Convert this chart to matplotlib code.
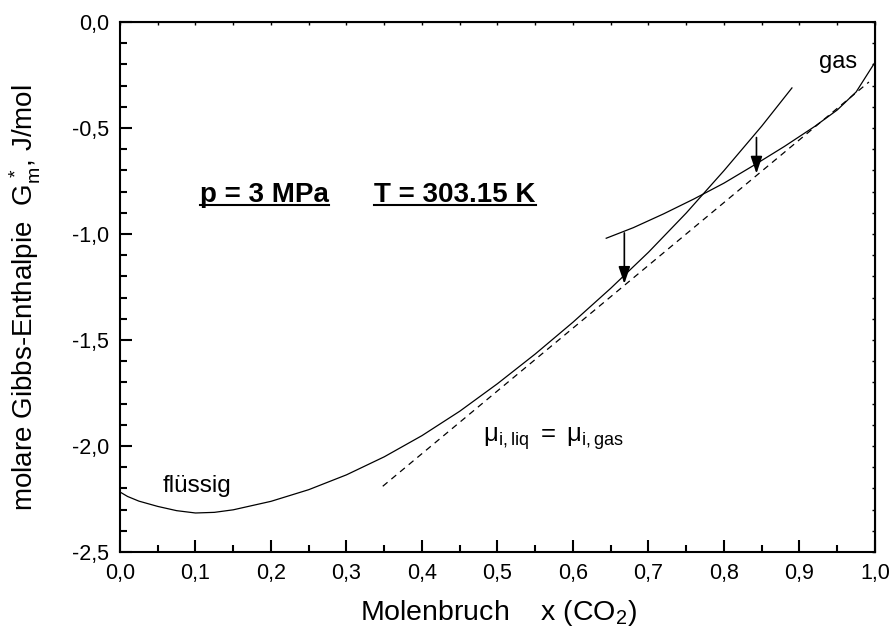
import numpy as np
import matplotlib
matplotlib.use('Agg')
from matplotlib import pyplot as plt
from matplotlib.lines import Line2D
from matplotlib.ticker import MultipleLocator

plt.rcParams['font.family'] = ['Liberation Sans', 'DejaVu Sans']
plt.rcParams['mathtext.fontset'] = 'custom'
plt.rcParams['mathtext.rm'] = 'Liberation Sans'
plt.rcParams['mathtext.it'] = 'Liberation Sans'
plt.rcParams['mathtext.bf'] = 'Liberation Sans:bold'

# fluessige Phase
x_liq = [0.0, 0.01, 0.025, 0.05, 0.075, 0.1, 0.125, 0.15, 0.2, 0.25, 0.3, 0.35, 0.4,
         0.45, 0.5, 0.55, 0.6, 0.65, 0.7, 0.75, 0.8, 0.85, 0.89]
G_liq = [-2.217, -2.238, -2.26, -2.285, -2.305, -2.316, -2.313, -2.301, -2.261, -2.206,
         -2.136, -2.051, -1.951, -1.836, -1.706, -1.566, -1.416, -1.256, -1.086, -0.901,
         -0.701, -0.491, -0.311]
# Gasphase
x_gas = [0.644, 0.68, 0.72, 0.76, 0.8, 0.84, 0.88, 0.92, 0.95, 0.975, 1.0]
G_gas = [-1.02, -0.97, -0.905, -0.835, -0.76, -0.675, -0.587, -0.493, -0.415, -0.33, -0.19]
# gemeinsame Tangente
x_tan = [0.348, 0.992]
G_tan = [-2.19, -0.283]
# Pfeile
arrow_x = [0.668, 0.843]
arrow_from = [-0.995, -0.545]
arrow_to = [-1.235, -0.715]

xticks = [0.0, 0.1, 0.2, 0.3, 0.4, 0.5, 0.6, 0.7, 0.8, 0.9, 1.0]
xticklabels = ['0,0', '0,1', '0,2', '0,3', '0,4', '0,5', '0,6', '0,7', '0,8', '0,9', '1,0']
yticks = [-2.5, -2.0, -1.5, -1.0, -0.5, 0.0]
yticklabels = ['-2,5', '-2,0', '-1,5', '-1,0', '-0,5', '0,0']

fig = plt.figure(figsize=(8.91, 6.42), dpi=100)
ax = fig.add_axes([0.13468, 0.14019, 0.84736, 0.82554])

ax.plot(x_liq, G_liq, color='k', lw=0.9)
ax.plot(x_gas, G_gas, color='k', lw=0.9)
ax.plot(x_tan, G_tan, color='k', lw=0.9, ls=(0, (5, 4)))
for xa, y0, y1 in zip(arrow_x, arrow_from, arrow_to):
    ax.annotate('', xy=(xa, y1), xytext=(xa, y0),
                arrowprops=dict(arrowstyle='-|>,head_length=0.65,head_width=0.22',
                                color='k', lw=1.2, mutation_scale=16, shrinkA=0, shrinkB=0))

ax.set_xlim(0, 1)
ax.set_ylim(-2.5, 0)
ax.set_xticks(xticks)
ax.set_xticklabels(xticklabels)
ax.set_yticks(yticks)
ax.set_yticklabels(yticklabels)
ax.xaxis.set_minor_locator(MultipleLocator(0.05))
ax.yaxis.set_minor_locator(MultipleLocator(0.1))
ax.tick_params(which='major', direction='in', length=8.5, width=1.5, labelsize=15.5, pad=8)
ax.tick_params(which='minor', direction='in', length=5, width=1.5)
for s in ax.spines.values():
    s.set_linewidth(1.5)

secx = ax.secondary_xaxis('top')
secx.set_xticks(np.arange(0, 1.001, 0.05))
secx.tick_params(direction='in', length=2.5, width=1, labeltop=False)
secy = ax.secondary_yaxis('right')
secy.set_yticks(np.arange(-2.5, 0.001, 0.1))
secy.tick_params(direction='in', length=2.5, width=1, labelright=False)

ax.text(0.951, -0.19, 'gas', fontsize=17, ha='center', va='center')
ax.text(0.102, -2.19, 'flüssig', fontsize=17.5, ha='center', va='center')
ax.text(0.481, -1.98, r'$\mathrm{μ}_{\mathrm{i,liq}}\ =\ \mathrm{μ}_{\mathrm{i,gas}}$',
        fontsize=18.5, ha='left', va='baseline')

t1 = ax.text(0.1062, -0.849, 'p = 3 MPa', fontsize=20, fontweight='bold', ha='left', va='baseline')
t2 = ax.text(0.337, -0.849, 'T = 303.15 K', fontsize=20, fontweight='bold', ha='left', va='baseline')

fig.text(0.559, 0.045, r'Molenbruch    x (CO$_2$)', fontsize=20.5, ha='center', va='center')
fig.text(0.029, 0.537, r'molare Gibbs-Enthalpie  G$_\mathrm{m}^{\,*}$, J/mol', fontsize=20,
         ha='center', va='center', rotation=90)

fig.canvas.draw()
r = fig.canvas.get_renderer()
for t in (t1, t2):
    bb = t.get_window_extent(r)
    yb = ax.transData.transform((0, -0.849))[1] - 3
    fig.add_artist(Line2D([bb.x0 / fig.bbox.width, bb.x1 / fig.bbox.width],
                          [yb / fig.bbox.height] * 2, color='k', lw=1.5))

fig.savefig('out.png', dpi=100)
